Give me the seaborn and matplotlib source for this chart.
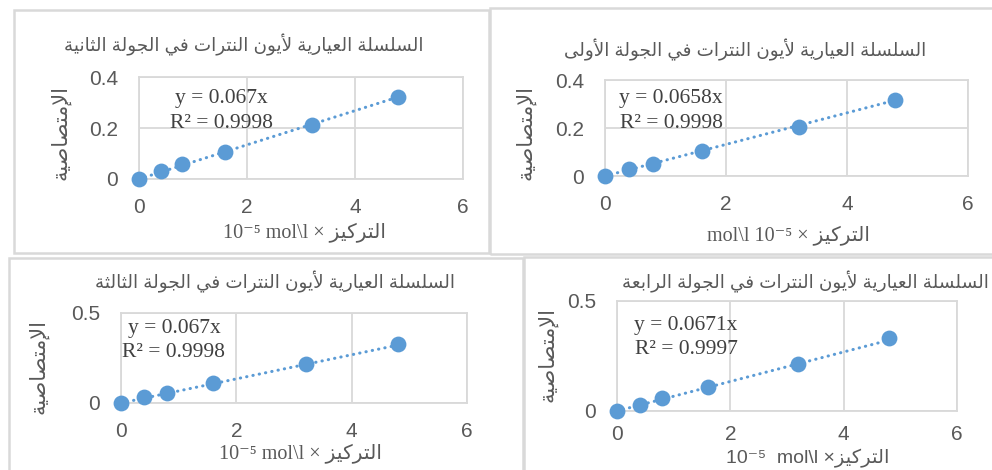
import matplotlib
matplotlib.use("Agg")
import matplotlib.pyplot as plt
from matplotlib.patches import Rectangle
import numpy as np
import seaborn as sns

# concentration (x 10^-5 mol/l) and absorbance for each round
conc = [0, 0.4, 0.8, 1.6, 3.2, 4.8]
abs_round1 = [0, 0.030, 0.052, 0.105, 0.204, 0.317]
abs_round2 = [0, 0.033, 0.059, 0.106, 0.213, 0.323]
abs_round3 = [0, 0.032, 0.057, 0.113, 0.218, 0.326]
abs_round4 = [0, 0.027, 0.058, 0.109, 0.215, 0.330]
slopes = [0.0658, 0.067, 0.067, 0.0671]
r2_values = [0.9998, 0.9998, 0.9998, 0.9997]
titles = [
    "السلسلة العيارية لأيون النترات في الجولة الأولى",
    "السلسلة العيارية لأيون النترات في الجولة الثانية",
    "السلسلة العيارية لأيون النترات في الجولة الثالثة",
    "السلسلة العيارية لأيون النترات في الجولة الرابعة",
]
ylabel = "الإمتصاصية"
xlabel_word = "التركيز"
xticks = [0, 2, 4, 6]
yticks_small = [0, 0.2, 0.4]
yticks_small_labels = ["0", "0.2", "0.4"]
yticks_big = [0, 0.5]
yticks_big_labels = ["0", "0.5"]

# --- minimal arabic shaping (matplotlib has no complex text layout) ---
FORMS = {
    "\u0627": ("\uFE8D", "\uFE8E", None, None),
    "\u0623": ("\uFE83", "\uFE84", None, None),
    "\u0625": ("\uFE87", "\uFE88", None, None),
    "\u0628": ("\uFE8F", "\uFE90", "\uFE91", "\uFE92"),
    "\u0629": ("\uFE93", "\uFE94", None, None),
    "\u062A": ("\uFE95", "\uFE96", "\uFE97", "\uFE98"),
    "\u062B": ("\uFE99", "\uFE9A", "\uFE9B", "\uFE9C"),
    "\u062C": ("\uFE9D", "\uFE9E", "\uFE9F", "\uFEA0"),
    "\u0631": ("\uFEAD", "\uFEAE", None, None),
    "\u0632": ("\uFEAF", "\uFEB0", None, None),
    "\u0633": ("\uFEB1", "\uFEB2", "\uFEB3", "\uFEB4"),
    "\u0635": ("\uFEB9", "\uFEBA", "\uFEBB", "\uFEBC"),
    "\u0639": ("\uFEC9", "\uFECA", "\uFECB", "\uFECC"),
    "\u0641": ("\uFED1", "\uFED2", "\uFED3", "\uFED4"),
    "\u0643": ("\uFED9", "\uFEDA", "\uFEDB", "\uFEDC"),
    "\u0644": ("\uFEDD", "\uFEDE", "\uFEDF", "\uFEE0"),
    "\u0645": ("\uFEE1", "\uFEE2", "\uFEE3", "\uFEE4"),
    "\u0646": ("\uFEE5", "\uFEE6", "\uFEE7", "\uFEE8"),
    "\u0648": ("\uFEED", "\uFEEE", None, None),
    "\u0649": ("\uFEEF", "\uFEF0", None, None),
    "\u064A": ("\uFEF1", "\uFEF2", "\uFEF3", "\uFEF4"),
}
LAM_ALEF = {"\u0627": ("\uFEFB", "\uFEFC"), "\u0623": ("\uFEF7", "\uFEF8"),
            "\u0625": ("\uFEF9", "\uFEFA")}


def shape_word(word):
    tokens = []
    i = 0
    while i < len(word):
        c = word[i]
        if c == "\u0644" and i + 1 < len(word) and word[i + 1] in LAM_ALEF:
            tokens.append(LAM_ALEF[word[i + 1]] + (None, None))
            i += 2
        else:
            tokens.append(FORMS[c])
            i += 1
    out = []
    for k, t in enumerate(tokens):
        prev_joins = k > 0 and tokens[k - 1][2] is not None
        next_joins = t[2] is not None and k + 1 < len(tokens)
        if prev_joins and next_joins:
            out.append(t[3])
        elif prev_joins:
            out.append(t[1])
        elif next_joins:
            out.append(t[2])
        else:
            out.append(t[0])
    return "".join(reversed(out))


def shape(text):
    return " ".join(shape_word(w) for w in reversed(text.split(" ")))


sns.set_style("white")
plt.rcParams["font.family"] = ["Liberation Sans", "DejaVu Sans"]

W, H = 992, 470
fig = plt.figure(figsize=(W / 100, H / 100), dpi=100)

BLUE = "#5B9BD5"
GRID = "#D9D9D9"
TXT = "#595959"
EQ = "#404040"
SERIF = ["Liberation Serif", "DejaVu Sans"]
SANS = ["Liberation Sans", "DejaVu Sans"]


def fbox(x0, y0, x1, y1):
    return [x0 / W, 1 - y1 / H, (x1 - x0) / W, (y1 - y0) / H]


def ftext(x, y, s, **kw):
    return fig.text(x / W, 1 - y / H, s, **kw)


sup = "10\u207B\u2075"
word = shape(xlabel_word)
panels = [
    # round 1 (top right)
    dict(y=abs_round1, k=0, frame=(490, 8, 1005, 254), box=(605, 80, 968, 176),
         yt=yticks_small, ytl=yticks_small_labels, title=(745, 50),
         eq=(671, 103, 128), yl=(525, 133), xpad=14,
         xl=(788, 240, "mol\\l " + sup + " \u00D7 " + word, SERIF, 14.5)),
    # round 2 (top left)
    dict(y=abs_round2, k=1, frame=(14, 10, 489, 253), box=(139, 77, 463, 179),
         yt=yticks_small, ytl=yticks_small_labels, title=(244, 45),
         eq=(221, 103, 128), yl=(60, 133), xpad=14,
         xl=(304, 237, sup + " mol\\l \u00D7 " + word, SERIF, 14.5)),
    # round 3 (bottom left)
    dict(y=abs_round3, k=2, frame=(9, 258, 523, 480), box=(121, 313, 467, 403),
         yt=yticks_big, ytl=yticks_big_labels, title=(275, 282),
         eq=(174, 333, 357), yl=(38, 367), xpad=14,
         xl=(300, 458, sup + " mol\\l \u00D7 " + word, SERIF, 14.5)),
    # round 4 (bottom right)
    dict(y=abs_round4, k=3, frame=(524, 257, 1005, 480), box=(617, 301, 957, 411),
         yt=yticks_big, ytl=yticks_big_labels, title=(805, 282),
         eq=(686, 330, 354), yl=(547, 354), xpad=10,
         xl=(808, 463, sup + "  mol\\l \u00D7" + word, SANS, 14)),
]

for p in panels:
    k = p["k"]
    x0, y0, x1, y1 = p["frame"]
    fig.add_artist(Rectangle((x0 / W, 1 - y1 / H), (x1 - x0) / W, (y1 - y0) / H,
                             transform=fig.transFigure, fill=False,
                             ec=GRID, lw=1.8))

    ax = fig.add_axes(fbox(*p["box"]))
    xs = np.array(conc)
    sns.lineplot(x=xs, y=slopes[k] * xs, ax=ax, color=BLUE, lw=2.2,
                 linestyle=(0, (0.1, 2.0)), dash_capstyle="round", zorder=2)
    sns.scatterplot(x=conc, y=p["y"], ax=ax, color=BLUE, s=130,
                    linewidth=0, zorder=3, clip_on=False)
    ax.set_xlim(0, 6)
    ax.set_ylim(0, p["yt"][-1])
    ax.set_xticks(xticks)
    ax.set_xticklabels([str(t) for t in xticks])
    ax.set_yticks(p["yt"])
    ax.set_yticklabels(p["ytl"])
    ax.tick_params(length=0, labelsize=15, colors=TXT)
    ax.tick_params(axis="y", pad=15)
    ax.tick_params(axis="x", pad=p["xpad"])
    ax.grid(True, color=GRID, lw=1.3)
    for s in ax.spines.values():
        s.set_color(GRID)
        s.set_linewidth(1.3)
    ax.set_xlabel("")
    ax.set_ylabel("")

    tx, ty = p["title"]
    ftext(tx, ty, shape(titles[k]), ha="center", va="center", fontsize=13.2,
          color=TXT, family=SANS)

    ex, b1, b2 = p["eq"]
    ftext(ex, b1, "y = %sx" % ("%g" % slopes[k]), ha="center", va="baseline",
          fontsize=15.5, color=EQ, family=SERIF)
    ftext(ex, b2, "R\u00B2 = %.4f" % r2_values[k], ha="center", va="baseline",
          fontsize=15.5, color=EQ, family=SERIF)

    lx, ly = p["yl"]
    ftext(lx, ly, shape(ylabel), rotation=90, ha="center", va="center",
          fontsize=15, color=TXT, family=SANS)

    xx, xy, xs_text, fam, fs = p["xl"]
    ftext(xx, xy, xs_text, ha="center", va="baseline", fontsize=fs,
          color=TXT, family=fam)

fig.savefig("out.png", dpi=100)
